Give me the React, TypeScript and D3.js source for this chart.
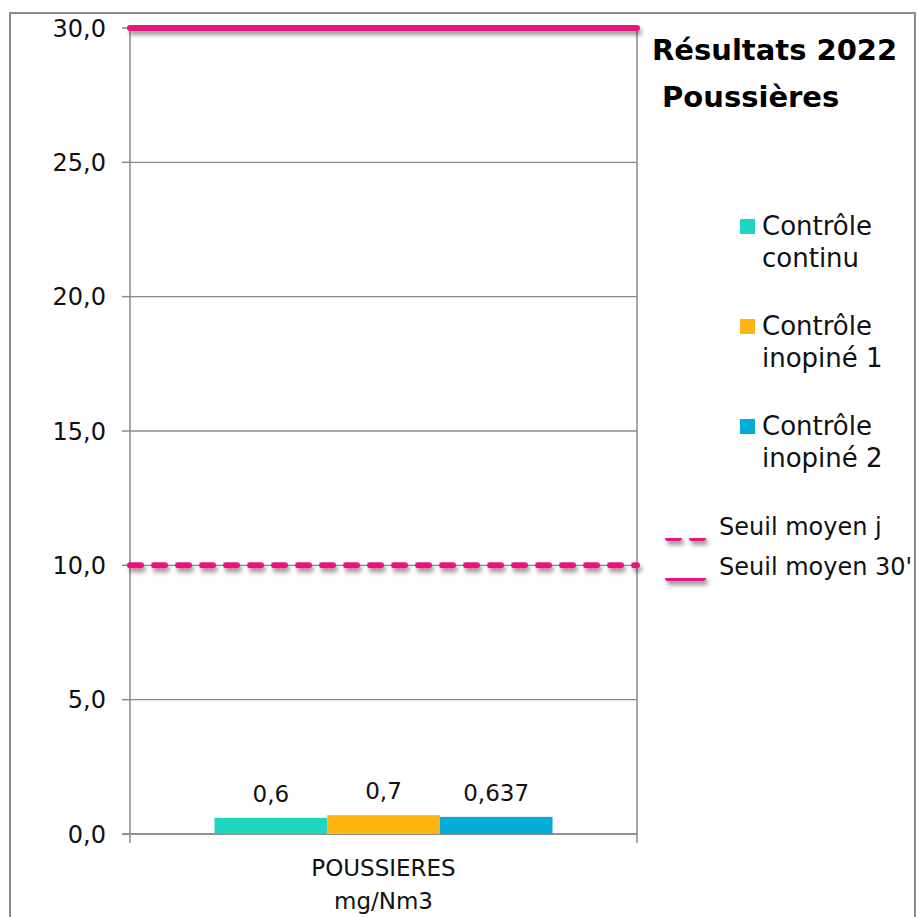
import React from "react";
import * as d3 from "d3";

const categories = ["POUSSIERES"];
const categoryLines = ["POUSSIERES", "mg/Nm3"];
const seriesNames = ["Contrôle continu", "Contrôle inopiné 1", "Contrôle inopiné 2"];
const seriesLegendLines = [["Contrôle", "continu"], ["Contrôle", "inopiné 1"], ["Contrôle", "inopiné 2"]];
const seriesValues = [0.6, 0.7, 0.637];
const seriesColors = ["#1fd5c0", "#fdb50f", "#02acd9"];
const thresholdNames = ["Seuil moyen j", "Seuil moyen 30'"];
const thresholdValues = [10, 30];
const yTicks = [0, 5, 10, 15, 20, 25, 30];
const titleLines = ["Résultats 2022", " Poussières"];

const PINK = "#e8177b";
const GRID = "#8a8a8a";
const FONT = "'DejaVu Sans', sans-serif";

export default function App() {
  const left = 130, right = 637, top = 28, bottom = 834;
  const y = d3.scaleLinear().domain([0, 30]).range([bottom, top]);
  const x = d3.scaleBand().domain(categories).range([left, right]).paddingInner(0).paddingOuter(0);
  const bw = x.bandwidth();
  const groupW = (bw * 3) / 4.5;
  const inner = d3
    .scaleBand()
    .domain(seriesNames)
    .range([(x(categories[0]) as number) + (bw - groupW) / 2, (x(categories[0]) as number) + (bw + groupW) / 2]);
  const fmtTick = (v: number) => d3.format(".1f")(v).replace(".", ",");
  const fmtVal = (v: number) => String(v).replace(".", ",");

  return (
    <svg
      width={917}
      height={917}
      style={{ position: "absolute", left: 0, top: 0, background: "#fff" }}
      fontFamily={FONT}
    >
      <defs>
        <filter id="shadow" filterUnits="userSpaceOnUse" x={0} y={0} width={917} height={917}>
          <feDropShadow dx="2" dy="4" stdDeviation="2" floodColor="#000" floodOpacity="0.4" />
        </filter>
      </defs>
      <rect x={0} y={0} width={917} height={917} fill="#fff" />
      <rect x={10} y={13} width={905} height={930} fill="none" stroke="#8c8c8c" strokeWidth={2} />

      {/* gridlines */}
      {yTicks.map((t) => (
        <line key={"g" + t} x1={left} x2={right} y1={y(t)} y2={y(t)} stroke={GRID} strokeWidth={1.3} />
      ))}
      {/* y axis */}
      <line x1={left} x2={left} y1={top} y2={bottom} stroke={GRID} strokeWidth={1.5} />
      <line x1={right} x2={right} y1={top} y2={bottom + 9} stroke={GRID} strokeWidth={1.5} />
      {yTicks.map((t) => (
        <g key={"t" + t}>
          <line x1={left - 8} x2={left} y1={y(t)} y2={y(t)} stroke={GRID} strokeWidth={1.5} />
          <text x={left - 24} y={y(t)} dy="0.36em" textAnchor="end" fontSize={24} fill="#111">
            {fmtTick(t)}
          </text>
        </g>
      ))}
      {/* x axis */}
      <line x1={left - 8} x2={right} y1={bottom} y2={bottom} stroke={GRID} strokeWidth={1.5} />
      <line x1={left} x2={left} y1={bottom} y2={bottom + 9} stroke={GRID} strokeWidth={1.5} />

      {/* bars */}
      {seriesNames.map((s, i) => (
        <g key={s}>
          <rect
            x={inner(s) as number}
            y={y(seriesValues[i])}
            width={inner.bandwidth()}
            height={y(0) - y(seriesValues[i])}
            fill={seriesColors[i]}
          />
          <text
            x={(inner(s) as number) + inner.bandwidth() / 2}
            y={y(seriesValues[i]) - 16}
            textAnchor="middle"
            fontSize={23}
            fill="#111"
          >
            {fmtVal(seriesValues[i])}
          </text>
        </g>
      ))}

      {/* x labels */}
      {categoryLines.map((l, i) => (
        <text
          key={l}
          x={(x(categories[0]) as number) + bw / 2}
          y={876 + i * 33}
          textAnchor="middle"
          fontSize={23}
          fill="#111"
        >
          {l}
        </text>
      ))}

      {/* threshold lines */}
      <line
        x1={left}
        x2={right}
        y1={y(thresholdValues[0])}
        y2={y(thresholdValues[0])}
        stroke={PINK}
        strokeWidth={6}
        strokeLinecap="round"
        strokeDasharray="11 13"
        filter="url(#shadow)"
      />
      <line
        x1={left}
        x2={right}
        y1={y(thresholdValues[1])}
        y2={y(thresholdValues[1])}
        stroke={PINK}
        strokeWidth={6}
        strokeLinecap="round"
        filter="url(#shadow)"
      />

      {/* title */}
      {titleLines.map((l, i) => (
        <text key={l} x={652} y={60 + i * 47} fontSize={29} fontWeight="bold" fill="#000" style={{ whiteSpace: "pre" }}>
          {l}
        </text>
      ))}

      {/* legend bars */}
      {seriesNames.map((s, i) => (
        <g key={"l" + s} transform={`translate(740, ${219 + i * 100})`}>
          <rect x={0} y={0} width={15} height={15} fill={seriesColors[i]} />
          {seriesLegendLines[i].map((ln, j) => (
            <text key={ln} x={22} y={16 + j * 32} fontSize={26} fill="#111">
              {ln}
            </text>
          ))}
        </g>
      ))}
      {/* legend lines */}
      {thresholdNames.map((n, i) => (
        <g key={n} transform={`translate(0, ${538 + i * 40})`}>
          <line
            x1={668}
            x2={703}
            y1={0}
            y2={0}
            stroke={PINK}
            strokeWidth={6}
            strokeLinecap="round"
            strokeDasharray={i === 0 ? "11 13" : undefined}
            filter="url(#shadow)"
          />
          <text x={719} y={-3} fontSize={24} fill="#111">
            {n}
          </text>
        </g>
      ))}
    </svg>
  );
}
